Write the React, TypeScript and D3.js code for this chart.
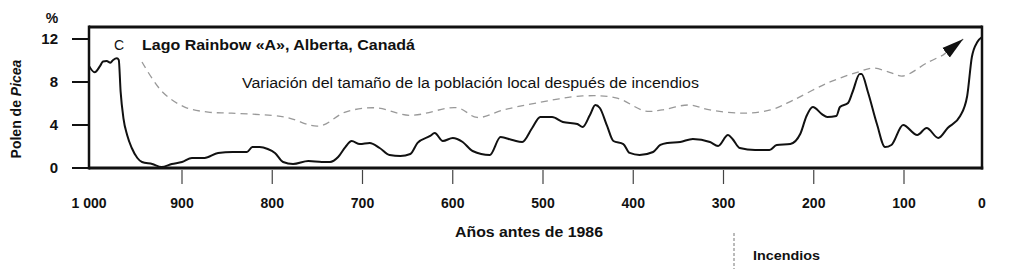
import React from "react";
import * as d3 from "d3";

// Pollen curve (years before 1986, % Picea pollen)
const pollenYears = [1000, 994, 988, 985, 981, 977, 974, 970, 968, 966, 963, 959, 954, 948, 943, 932, 922, 911, 900, 889, 875, 860, 844, 828, 822, 814, 805, 797, 788, 777, 760, 745, 736, 727, 719, 712, 703, 692, 681, 670, 658, 647, 639, 625, 620, 611, 600, 589, 578, 559, 547, 534, 523, 512, 503, 490, 478, 462, 456, 448, 442, 437, 429, 422, 411, 404, 393, 378, 370, 362, 348, 334, 315, 306, 295, 290, 282, 265, 249, 241, 226, 215, 208, 201, 191, 185, 175, 171, 162, 157, 149, 147, 140, 130, 121, 114, 101, 83, 71, 56, 44, 28, 19, 13, 6, 0];
const pollenValues = [9.5, 8.9, 9.5, 9.9, 9.95, 9.8, 10.05, 10.2, 10.05, 7.1, 4.65, 3.07, 1.86, 0.93, 0.56, 0.37, 0.09, 0.37, 0.56, 0.93, 0.93, 1.4, 1.49, 1.49, 1.95, 1.95, 1.77, 1.4, 0.56, 0.37, 0.65, 0.56, 0.56, 1.02, 1.95, 2.51, 2.23, 2.33, 1.86, 1.21, 1.12, 1.3, 2.33, 2.98, 3.26, 2.51, 2.79, 2.42, 1.58, 1.21, 2.88, 2.6, 2.42, 3.72, 4.74, 4.74, 4.28, 4.09, 3.81, 4.93, 5.86, 5.58, 3.91, 2.51, 2.23, 1.4, 1.21, 1.49, 2.14, 2.33, 2.42, 2.7, 2.42, 2.05, 3.07, 2.7, 1.86, 1.67, 1.67, 2.14, 2.23, 3.16, 4.84, 5.67, 5.02, 4.74, 4.84, 5.67, 6.05, 7.07, 8.74, 8.74, 7.07, 4.09, 1.95, 2.14, 4.0, 3.07, 3.72, 2.79, 3.72, 4.84, 6.7, 10.33, 11.72, 12.19];

// Dashed curve: local population size after fires
const populationYears = [943, 921, 897, 871, 845, 786, 748, 719, 686, 647, 595, 573, 544, 507, 456, 418, 387, 368, 339, 315, 278, 248, 223, 185, 152, 134, 116, 101, 70, 50, 24];
const populationValues = [9.86, 7.07, 5.67, 5.2, 5.1, 4.74, 3.9, 5.2, 5.6, 4.9, 5.6, 4.7, 5.4, 6.05, 6.7, 6.5, 5.3, 5.4, 5.86, 5.4, 5.1, 5.4, 6.3, 7.9, 8.9, 9.3, 8.9, 8.56, 9.8, 10.5, 12.0];

const xTickValues = [1000, 900, 800, 700, 600, 500, 400, 300, 200, 100, 0];
const xTickLabels = ["1 000", "900", "800", "700", "600", "500", "400", "300", "200", "100", "0"];
const yTickValues = [0, 4, 8, 12];
const yTickLabels = ["0", "4", "8", "12"];

const W = 1014;
const H = 269;
const FONT = "'Liberation Sans', Arial, Helvetica, sans-serif";

export default function App() {
  const left = 89, right = 982, top = 27, bottom = 168;
  const x = d3.scaleLinear().domain([1000, 900, 100, 0]).range([left, 182, 904, right]);
  const y = d3.scaleLinear().domain([0, 12]).range([bottom, 39]);

  const pollenData = pollenYears.map((yr, i) => [yr, pollenValues[i]] as [number, number]);
  const popData = populationYears.map((yr, i) => [yr, populationValues[i]] as [number, number]);

  const pollenLine = d3
    .line<[number, number]>()
    .x((d) => x(d[0]))
    .y((d) => y(d[1]))
    .curve(d3.curveMonotoneX);
  const popLine = d3
    .line<[number, number]>()
    .x((d) => x(d[0]))
    .y((d) => y(d[1]))
    .curve(d3.curveCatmullRom);

  const last = popData[popData.length - 1];
  const prev = popData[popData.length - 2];

  return (
    <svg
      width={W}
      height={H}
      style={{ position: "absolute", left: 0, top: 0, background: "#fff" }}
      fontFamily={FONT}
    >
      <defs>
        <marker
          id="arrow"
          markerUnits="userSpaceOnUse"
          markerWidth={24}
          markerHeight={16}
          refX={22}
          refY={8}
          orient="auto"
        >
          <path d="M0,2 L22,8 L0,14 Z" fill="#111" />
        </marker>
      </defs>

      {/* dashed population curve */}
      <path
        d={popLine(popData.slice(0, -1)) || ""}
        fill="none"
        stroke="#999"
        strokeWidth={1.3}
        strokeDasharray="7 5"
      />
      <path
        d={`M${x(prev[0])},${y(prev[1])}L${x(last[0])},${y(last[1])}`}
        fill="none"
        stroke="#999"
        strokeWidth={1.3}
        strokeDasharray="7 5"
        markerEnd="url(#arrow)"
      />

      {/* pollen curve */}
      <path d={pollenLine(pollenData) || ""} fill="none" stroke="#111" strokeWidth={2} strokeLinejoin="round" />

      {/* frame */}
      <line x1={left} x2={right} y1={top} y2={top} stroke="#111" strokeWidth={3} />
      <line x1={left} x2={right + 1.25} y1={bottom} y2={bottom} stroke="#111" strokeWidth={3} />
      <line x1={left} x2={left} y1={top - 1.5} y2={bottom + 1.5} stroke="#111" strokeWidth={2.5} />
      <line x1={right} x2={right} y1={top - 1.5} y2={bottom + 1.5} stroke="#111" strokeWidth={2.5} />

      {/* y ticks */}
      {yTickValues.map((v, i) => (
        <g key={"y" + v}>
          <line x1={72} x2={left} y1={y(v)} y2={y(v)} stroke="#111" strokeWidth={2} />
          <text x={58} y={y(v) + 5} textAnchor="end" fontSize={15} fontWeight="bold" fill="#111">
            {yTickLabels[i]}
          </text>
        </g>
      ))}
      <text x={52} y={23} textAnchor="middle" fontSize={14} fontWeight="bold" fill="#111">%</text>
      <text
        transform={`translate(21,109) rotate(-90)`}
        textAnchor="middle"
        fontSize={14}
        fontWeight="bold"
        fill="#111"
      >
        Polen de <tspan fontStyle="italic">Picea</tspan>
      </text>

      {/* x ticks */}
      {xTickValues.map((v, i) => (
        <g key={"x" + v}>
          {v !== 1000 && v !== 0 && (
            <line x1={x(v)} x2={x(v)} y1={bottom + 2} y2={184} stroke="#444" strokeWidth={1.2} />
          )}
          <text x={x(v)} y={208} textAnchor="middle" fontSize={14} fill="#111" fontWeight="bold">
            {xTickLabels[i]}
          </text>
        </g>
      ))}
      <text x={529} y={237} textAnchor="middle" fontSize={14} fill="#111" fontWeight="bold" textLength={148} lengthAdjust="spacingAndGlyphs">
        Años antes de 1986
      </text>

      {/* titles */}
      <text x={114} y={50} fontSize={14} fill="#111">C</text>
      <text x={142} y={50} fontSize={14} fontWeight="bold" fill="#111" textLength={273} lengthAdjust="spacingAndGlyphs">
        Lago Rainbow «A», Alberta, Canadá
      </text>
      <text x={242} y={88} fontSize={14} fill="#111" textLength={457} lengthAdjust="spacingAndGlyphs">
        Variación del tamaño de la población local después de incendios
      </text>

      {/* partial legend below */}
      <line x1={734} x2={734} y1={233} y2={269} stroke="#777" strokeWidth={1} strokeDasharray="3 2" />
      <text x={753} y={260} fontSize={13} fill="#111" fontWeight="bold" textLength={67} lengthAdjust="spacingAndGlyphs">
        Incendios
      </text>
    </svg>
  );
}
